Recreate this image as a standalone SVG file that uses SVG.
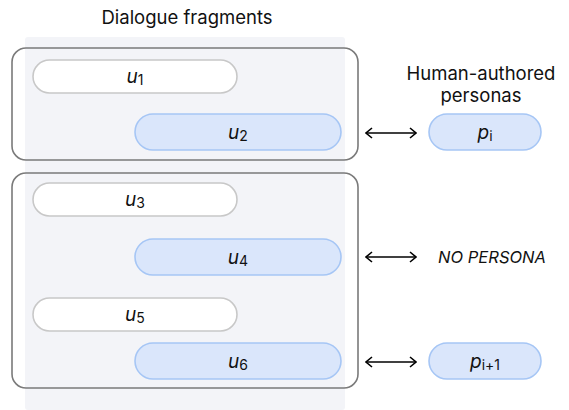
<svg xmlns="http://www.w3.org/2000/svg" width="569" height="410" viewBox="0 0 569 410">
<defs>
<marker id="ah" viewBox="0 0 12 12" refX="11" refY="6" markerWidth="12" markerHeight="12" markerUnits="userSpaceOnUse" orient="auto-start-reverse">
<path d="M5,1 L11,6 L5,11" fill="none" stroke="#000" stroke-width="1.6"/>
</marker>
</defs>
<style>
text{font-family:Inter,"Noto Sans",sans-serif;fill:#111;}
.title{font-size:18.5px;text-anchor:middle;}
.lbl{font-size:19px;font-style:italic;text-anchor:middle;}
.sub{font-size:14px;font-style:normal;}
.grp{fill:none;stroke:#7a7a7a;stroke-width:1.6;}
.w{fill:#fff;stroke:#c8c8c8;stroke-width:1.6;}
.b{fill:#dae6fb;stroke:#a6c6f5;stroke-width:1.6;}
.con{stroke:#000;stroke-width:1.4;fill:none;marker-start:url(#ah);marker-end:url(#ah);}
</style>
<rect x="25" y="37" width="320" height="373" rx="3" fill="#f3f4f8"/>
<text class="title" x="187" y="24">Dialogue fragments</text>
<text class="title" x="481" y="80">Human-authored</text>
<text class="title" x="481" y="102">personas</text>
<g id="group1"><rect class="grp" x="12" y="48" width="346" height="112" rx="14"/></g>
<g id="group2"><rect class="grp" x="12" y="173" width="346" height="215" rx="14"/></g>
<g id="u1"><rect class="w" x="33" y="60" width="204" height="33" rx="16.5"/><text class="lbl" x="135" y="83">u<tspan class="sub" dy="2">1</tspan></text></g>
<g id="u2"><rect class="b" x="135" y="114" width="206" height="36" rx="18"/><text class="lbl" x="238" y="139">u<tspan class="sub" dy="2">2</tspan></text></g>
<g id="u3"><rect class="w" x="33" y="183" width="204" height="33" rx="16.5"/><text class="lbl" x="135" y="206">u<tspan class="sub" dy="2">3</tspan></text></g>
<g id="u4"><rect class="b" x="135" y="239" width="206" height="36" rx="18"/><text class="lbl" x="238" y="264">u<tspan class="sub" dy="2">4</tspan></text></g>
<g id="u5"><rect class="w" x="33" y="298" width="204" height="33" rx="16.5"/><text class="lbl" x="135" y="321">u<tspan class="sub" dy="2">5</tspan></text></g>
<g id="u6"><rect class="b" x="135" y="343" width="206" height="36" rx="18"/><text class="lbl" x="238" y="368">u<tspan class="sub" dy="2">6</tspan></text></g>
<g id="pi"><rect class="b" x="429" y="114" width="112" height="36" rx="18"/><text class="lbl" x="485" y="139">p<tspan class="sub" dy="2">i</tspan></text></g>
<g id="nopersona"><text class="lbl" x="492" y="263" style="font-size:16.5px">NO PERSONA</text></g>
<g id="pi1"><rect class="b" x="429" y="343" width="112" height="36" rx="18"/><text class="lbl" x="485" y="368">p<tspan class="sub" dy="2">i+1</tspan></text></g>
<g id="connectors">
<line class="con" x1="366" y1="133" x2="416" y2="133"/>
<line class="con" x1="366" y1="257" x2="416" y2="257"/>
<line class="con" x1="366" y1="362" x2="416" y2="362"/>
</g>
</svg>
